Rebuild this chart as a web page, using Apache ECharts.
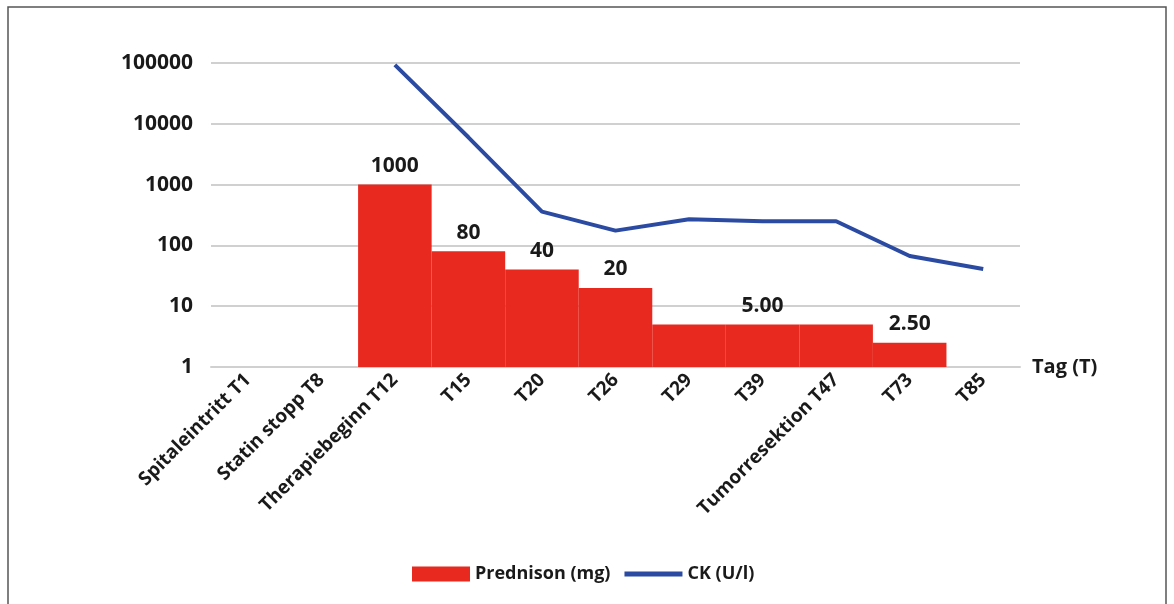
<!DOCTYPE html>
<html>
<head>
<meta charset="utf-8">
<script src="https://cdn.jsdelivr.net/npm/echarts@6/dist/echarts.min.js"></script>
<style>
  html, body {margin: 0; padding: 0; background: #fff;}
  #main {width: 1174px; height: 604px;}
</style>
</head>
<body>
<div id="main"></div>
<script>
const categories = ['Spitaleintritt T1', 'Statin stopp T8', 'Therapiebeginn T12', 'T15', 'T20', 'T26', 'T29', 'T39', 'Tumorresektion T47', 'T73', 'T85'];
const prednison = ['-', '-', 1000, 80, 40, 20, 5, 5, 5, 2.5, '-'];
const prednisonLabels = ['', '', '1000', '80', '40', '20', '', '5.00', '', '2.50', ''];
const ck = ['-', '-', 93000, 6000, 360, 175, 270, 250, 250, 67, 41];
const yTicks = [1, 10, 100, 1000, 10000, 100000];

const font = '"Open Sans", "DejaVu Sans", sans-serif';
const chart = echarts.init(document.getElementById('main'));

chart.setOption({
  animation: false,
  textStyle: {fontFamily: font},
  graphic: [{
    type: 'rect',
    shape: {x: 8, y: 7, width: 1158, height: 640},
    style: {fill: 'none', stroke: '#555', lineWidth: 1.5}
  }],
  grid: {left: 211, right: 154, top: 63, bottom: 237},
  legend: {
    top: 560,
    left: 407,
    itemWidth: 58,
    itemHeight: 15,
    itemGap: 14,
    textStyle: {fontSize: 18, fontWeight: 'bold', color: '#1a1a1a', fontFamily: font},
    data: [
      {name: 'Prednison (mg)', icon: 'rect'},
      {name: 'CK (U/l)', icon: 'path://M0,0 L58,0 L58,5 L0,5 Z', itemStyle: {color: '#2B4BA3'}}
    ]
  },
  xAxis: {
    type: 'category',
    data: categories,
    name: 'Tag (T)',
    nameLocation: 'end',
    nameGap: 12,
    nameTextStyle: {fontSize: 20, fontWeight: 'bold', color: '#1a1a1a', fontFamily: font},
    axisLine: {lineStyle: {color: '#d0d0d0', width: 2}},
    axisTick: {show: false},
    axisLabel: {rotate: 45, fontSize: 19, fontWeight: 'bold', color: '#1a1a1a', margin: 10, interval: 0, fontFamily: font}
  },
  yAxis: {
    type: 'log',
    logBase: 10,
    min: yTicks[0],
    max: yTicks[yTicks.length - 1],
    axisLine: {show: false},
    axisTick: {show: false},
    splitLine: {lineStyle: {color: '#d0d0d0', width: 2}},
    axisLabel: {fontSize: 21, fontWeight: 'bold', color: '#1a1a1a', margin: 18, fontFamily: font, formatter: v => String(v)}
  },
  series: [
    {
      name: 'Prednison (mg)',
      type: 'bar',
      data: prednison,
      barCategoryGap: 0,
      itemStyle: {color: '#E8291F'},
      label: {
        show: true,
        position: 'top',
        distance: 8,
        fontSize: 21,
        fontWeight: 'bold',
        color: '#1a1a1a',
        fontFamily: font,
        formatter: p => prednisonLabels[p.dataIndex]
      }
    },
    {
      name: 'CK (U/l)',
      type: 'line',
      data: ck,
      symbol: 'none',
      lineStyle: {color: '#2B4BA3', width: 4},
      itemStyle: {color: '#2B4BA3'}
    }
  ]
});
</script>
</body>
</html>
